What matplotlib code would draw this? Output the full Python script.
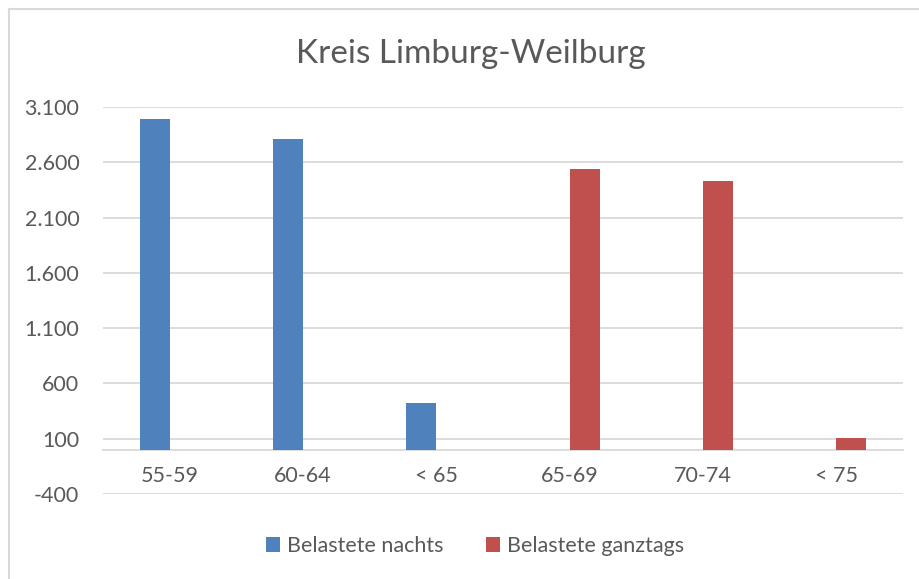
import matplotlib
matplotlib.use("Agg")
import matplotlib.pyplot as plt
import matplotlib.lines as mlines
import numpy as np

# Data.
categories = ["55-59", "60-64", "< 65", "65-69", "70-74", "< 75"]
nachts = [2990, 2810, 425, 0, 0, 0]
ganztags = [0, 0, 0, 2540, 2430, 110]
y_ticks = [-400, 100, 600, 1100, 1600, 2100, 2600, 3100]

BLUE = "#4F81BD"
RED = "#C0504D"
GRID = "#D9D9D9"
TEXT = "#595959"

plt.rcParams["font.family"] = ["Lato", "DejaVu Sans"]

fig = plt.figure(figsize=(9.19, 5.79), dpi=100)
ax = fig.add_axes([0.112, 0.147, 0.8706, 0.668])

x = np.arange(len(categories))
width = 0.225
ax.bar(x - width / 2, nachts, width, color=BLUE, label="Belastete nachts", zorder=3)
ax.bar(x + width / 2, ganztags, width, color=RED, label="Belastete ganztags", zorder=3)

ax.set_xlim(-0.5, len(categories) - 0.5)
ax.set_ylim(-400, 3100)
ax.set_yticks(y_ticks)
ax.set_yticklabels([f"{t:,}".replace(",", ".") for t in y_ticks])
ax.yaxis.grid(True, color=GRID, lw=1.3, zorder=0)
ax.set_axisbelow(True)

# Category axis sits on the zero line.
for side in ["top", "right", "left"]:
    ax.spines[side].set_visible(False)
ax.spines["bottom"].set_position(("data", 0))
ax.spines["bottom"].set_color(GRID)
ax.spines["bottom"].set_linewidth(1.3)
ax.set_xticks(x)
ax.set_xticklabels(categories)
ax.tick_params(axis="x", length=0, pad=12, labelsize=15.5, labelcolor=TEXT)
ax.tick_params(axis="y", length=0, pad=17, labelsize=15.5, labelcolor=TEXT)

fig.text(0.512, 0.907, "Kreis Limburg-Weilburg", ha="center", va="center",
         fontsize=24, color=TEXT)

fig.legend(loc="center", bbox_to_anchor=(0.517, 0.057), ncol=2, frameon=False,
           fontsize=15.5, labelcolor=TEXT, handlelength=0.65, handleheight=0.65,
           handletextpad=0.3, columnspacing=2.0)

# Chart border (left and top only visible in the reference).
fig.add_artist(mlines.Line2D([8.5 / 919, 8.5 / 919], [0, 1 - 8.5 / 579],
                             transform=fig.transFigure, color=GRID, lw=1.5))
fig.add_artist(mlines.Line2D([8.5 / 919, 1], [1 - 8.5 / 579, 1 - 8.5 / 579],
                             transform=fig.transFigure, color=GRID, lw=1.5))

fig.savefig("out.png", dpi=100)
